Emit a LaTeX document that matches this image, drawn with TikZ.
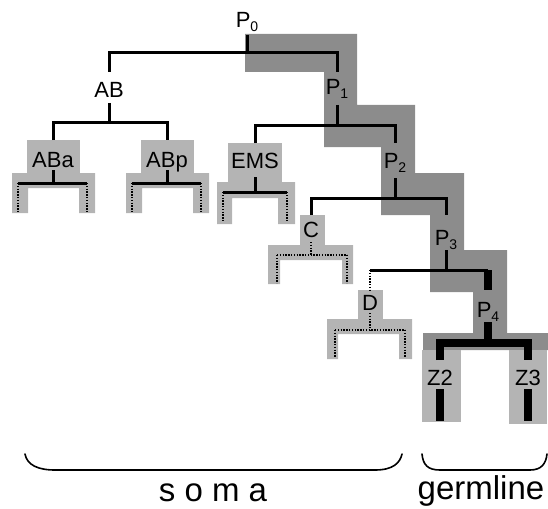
\documentclass[tikz,border=0pt]{standalone}
\usepackage{fontspec}
\setmainfont{Liberation Sans}
\definecolor{bandDark}{RGB}{140,140,140}
\definecolor{bandLight}{RGB}{180,180,180}
\newcommand{\Psub}[1]{P\raisebox{-4pt}{\fontsize{14}{14}\selectfont #1}}
\begin{document}
\begin{tikzpicture}[x=1pt,y=-1pt,
  lbl/.style={font=\fontsize{22}{24}\selectfont, inner sep=0pt, outer sep=0pt, anchor=base},
  conn/.style={line width=3pt, line join=miter, line cap=butt},
  thickconn/.style={line width=8pt, line join=miter},
  dotconn/.style={line width=2.4pt, dash pattern=on 1.4pt off 1.4pt},
  bracepath/.style={line width=1.6pt, line cap=round},
  bigtxt/.style={font=\fontsize{33}{36}\selectfont, inner sep=0pt, anchor=base}]
\useasboundingbox (0,0) rectangle (548,508);

% germline band (dark staircase)
\fill[bandDark] (245,34) -- (357,34) -- (357,105) -- (415,105) -- (415,173) -- (464,173)
  -- (464,250) -- (507,250) -- (507,333) -- (548,333) -- (548,350) -- (423,350)
  -- (423,333) -- (473,333) -- (473,292) -- (430,292) -- (430,215) -- (381,215)
  -- (381,147) -- (324,147) -- (324,72) -- (245,72) -- cycle;

% light boxes of somatic founders
\fill[bandLight] (27,140) rectangle (80,173);
\fill[bandLight] (12,173) -- (95,173) -- (95,213) -- (79,213) -- (79,188) -- (28,188) -- (28,213) -- (12,213) -- cycle;
\fill[bandLight] (141,140) rectangle (194,173);
\fill[bandLight] (126,173) -- (209,173) -- (209,213) -- (193,213) -- (193,188) -- (142,188) -- (142,213) -- (126,213) -- cycle;
\fill[bandLight] (228,143) rectangle (282,182);
\fill[bandLight] (217,182) -- (295,182) -- (295,224) -- (278,224) -- (278,198) -- (232,198) -- (232,224) -- (217,224) -- cycle;
\fill[bandLight] (300,215) rectangle (325,245);
\fill[bandLight] (268,245) -- (353,245) -- (353,284) -- (342,284) -- (342,260) -- (280,260) -- (280,284) -- (268,284) -- cycle;
\fill[bandLight] (358,290) rectangle (383,319);
\fill[bandLight] (327,319) -- (412,319) -- (412,359) -- (399,359) -- (399,334) -- (338,334) -- (338,359) -- (327,359) -- cycle;
\fill[bandLight] (422,350) rectangle (461,422);
\fill[bandLight] (509,350) rectangle (547,424);

% labels
\node[lbl, text height=15, text depth=7] (P0) at (247,28) {\Psub{0}};
\node[lbl, text height=26, text depth=5] (AB) at (109,98) {AB};
\node[lbl, text height=23, text depth=10] (P1) at (337,95) {\Psub{1}};
\node[lbl, text height=27, text depth=3] (ABa) at (53,167) {ABa};
\node[lbl, text height=27, text depth=3] (ABp) at (167,167) {ABp};
\node[lbl, text height=25, text depth=9] (EMS) at (255,168) {EMS};
\node[lbl, text height=25, text depth=10] (P2) at (395,168) {\Psub{2}};
\node[lbl, text height=22, text depth=5] (C) at (311,237) {C};
\node[lbl, text height=30, text depth=5] (P3) at (446,245) {\Psub{3}};
\node[lbl, text height=20, text depth=3] (D) at (370,310) {D};
\node[lbl, text height=27, text depth=5] (P4) at (488,317) {\Psub{4}};
\node[lbl, text height=25, text depth=4] (Z2) at (440,385) {Z2};
\node[lbl, text height=25, text depth=4] (Z3) at (528,385) {Z3};

% junctions
\coordinate (j0) at (247,53);
\coordinate (jAB) at (109,122);
\coordinate (j1) at (337,125);
\coordinate (j2) at (395,198);
\coordinate (j3) at (446,270);
\coordinate (j3D) at (370,270);
\coordinate (j3P) at (488,270);
\coordinate (j4) at (488,343);
\coordinate (jABa) at (53,183);  \coordinate (ABaL) at (18,183);  \coordinate (ABaR) at (87,183);
\coordinate (ABaLe) at (18,213); \coordinate (ABaRe) at (87,213);
\coordinate (jABp) at (167,183); \coordinate (ABpL) at (132,183); \coordinate (ABpR) at (201,183);
\coordinate (ABpLe) at (132,213); \coordinate (ABpRe) at (201,213);
\coordinate (jEMS) at (255,192); \coordinate (EMSL) at (223,192); \coordinate (EMSR) at (287,192);
\coordinate (EMSLe) at (223,222); \coordinate (EMSRe) at (287,222);
\coordinate (jC) at (311,255); \coordinate (CL) at (277,255); \coordinate (CR) at (347,255);
\coordinate (CLe) at (277,283); \coordinate (CRe) at (347,283);
\coordinate (jD) at (370,330); \coordinate (DL) at (335,330); \coordinate (DR) at (405,330);
\coordinate (DLe) at (335,357); \coordinate (DRe) at (405,357);
\coordinate (Z2e) at (440,421);
\coordinate (Z3e) at (528,421);

% lineage
\draw[conn] (P0.south) -- (j0);
\draw[conn] (AB.north) |- (j0) -| (P1.north);
\draw[conn] (AB.south) -- (jAB);
\draw[conn] (ABa.north) |- (jAB) -| (ABp.north);
\draw[conn] (P1.south) -- (j1);
\draw[conn] (EMS.north) |- (j1) -| (P2.north);
\draw[conn] (P2.south) -- (j2);
\draw[conn] (C.north) |- (j2) -| (P3.north);
\draw[conn] (P3.south) -- (j3);
\draw[conn] (j3D) -- (j3P);
\draw[dotconn] (j3D) -- (D.north);
\draw[thickconn] (j3P) -- (P4.north);
\draw[thickconn] (P4.south) -- (j4);
\draw[thickconn] (Z2.north) |- (j4) -| (Z3.north);
\draw[thickconn] (Z2.south) -- (Z2e);
\draw[thickconn] (Z3.south) -- (Z3e);

% somatic sub-lineages
\draw[conn] (ABa.south) -- (jABa);
\draw[conn] (ABaL) -- (ABaR);
\draw[dotconn] (ABaL) -- (ABaLe);
\draw[dotconn] (ABaR) -- (ABaRe);
\draw[conn] (ABp.south) -- (jABp);
\draw[conn] (ABpL) -- (ABpR);
\draw[dotconn] (ABpL) -- (ABpLe);
\draw[dotconn] (ABpR) -- (ABpRe);
\draw[conn] (EMS.south) -- (jEMS);
\draw[conn] (EMSL) -- (EMSR);
\draw[dotconn] (EMSL) -- (EMSLe);
\draw[dotconn] (EMSR) -- (EMSRe);
\draw[dotconn] (C.south) -- (jC);
\draw[dotconn] (CL) -- (CR);
\draw[dotconn] (CL) -- (CLe);
\draw[dotconn] (CR) -- (CRe);
\draw[dotconn] (D.south) -- (jD);
\draw[dotconn] (DL) -- (DR);
\draw[dotconn] (DL) -- (DLe);
\draw[dotconn] (DR) -- (DRe);

% braces
\draw[bracepath] (25,454) .. controls (27,465) and (38,470) .. (55,470) -- (375,470)
  .. controls (393,470) and (400,463) .. (402,454);
\draw[bracepath] (422,454) .. controls (423,465) and (428,470) .. (440,470) -- (530,470)
  .. controls (542,470) and (546,463) .. (547,454);

\node[bigtxt] (soma) at (213,501) {s o m a};
\node[bigtxt] (germ) at (481,499) {germline};
\end{tikzpicture}
\end{document}
